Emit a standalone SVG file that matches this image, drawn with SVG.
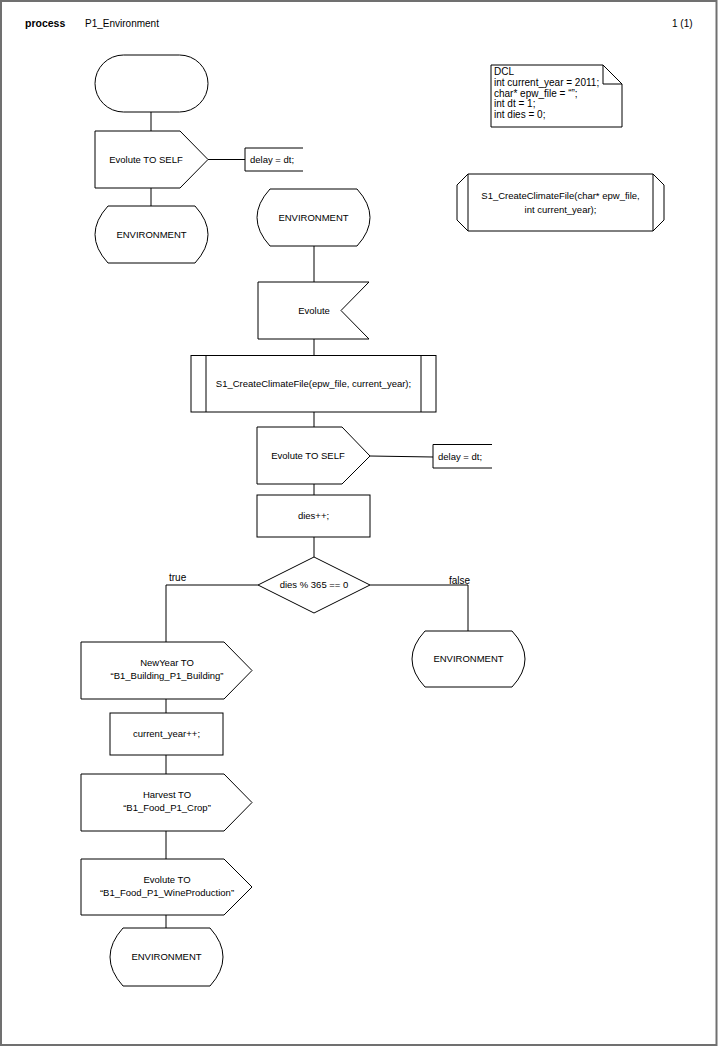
<svg xmlns="http://www.w3.org/2000/svg" width="718" height="1047" viewBox="0 0 718 1047">
<style>
.s{fill:#fff;stroke:#000;stroke-width:1}
.c{fill:none;stroke:#000;stroke-width:1}
text{font-family:"Liberation Sans",Arial,sans-serif;font-size:9.5px;fill:#000}
.m{text-anchor:middle}
.t{font-size:10px}
.d{font-size:10px}
.b{font-weight:bold;font-size:10.5px}
</style>
<rect x="0" y="0" width="718" height="1047" fill="#fff"/>
<rect id="frame" x="1" y="1" width="715.5" height="1044" fill="none" stroke="#707070" stroke-width="2"/>
<g id="header">
<text class="b" x="25" y="27">process</text>
<text class="t" x="85" y="27">P1_Environment</text>
<text class="t" x="672" y="27">1 (1)</text>
</g>
<g id="connectors">
<path class="c" d="M151,112V131M208,159.5H245M151,188V206"/>
<path class="c" d="M314,246V282M314,339V355M314,412V427M370,456L433,457M314,484V495M314,537V557"/>
<path class="c" d="M258,585H166V642M370,585H468V631"/>
<path class="c" d="M166,699V713M166,755V774M166,831V859M166,915V928"/>
</g>
<g id="labels">
<text class="t" x="169" y="581">true</text>
<text class="t" x="449" y="584">false</text>
</g>
<g id="start">
<rect class="s" x="95" y="55" width="113" height="57" rx="28.5"/>
</g>
<g id="out1">
<path class="s" d="M95,131H180L208,159.5L180,188H95Z"/>
<text class="m" x="146" y="162.5">Evolute TO SELF</text>
</g>
<g id="comment1">
<path class="c" d="M303,148H245V171H303"/>
<text x="250" y="162.5">delay = dt;</text>
</g>
<g id="state1">
<path class="s" d="M108,206H195Q221,234.5 195,263H108Q82,234.5 108,206Z"/>
<text class="m" x="151.5" y="237.5">ENVIRONMENT</text>
</g>
<g id="dcl">
<path class="s" d="M491,65H603L622,84V127H491Z"/>
<path class="c" d="M603,65V84H622"/>
<text class="d" x="494" y="75">DCL</text>
<text class="d" x="494" y="86">int current_year = 2011;</text>
<text class="d" x="494" y="96.5">char* epw_file = “”;</text>
<text class="d" x="494" y="107">int dt = 1;</text>
<text class="d" x="494" y="118">int dies = 0;</text>
</g>
<g id="procref">
<path class="s" d="M468,174H653L664,185V220L653,231H468L457,220V185Z"/>
<path class="c" d="M468,174V231M653,174V231"/>
<text class="m" x="560.5" y="199">S1_CreateClimateFile(char* epw_file,</text>
<text class="m" x="560.5" y="213">int current_year);</text>
</g>
<g id="state2">
<path class="s" d="M270,189H357Q383,217.5 357,246H270Q244,217.5 270,189Z"/>
<text class="m" x="313.5" y="220.5">ENVIRONMENT</text>
</g>
<g id="input1">
<path class="s" d="M258,282H369L341,310.5L369,339H258Z"/>
<text class="m" x="314" y="313.5">Evolute</text>
</g>
<g id="proc1">
<rect class="s" x="191" y="355.5" width="245" height="56.5"/>
<path class="c" d="M206,355.5V412M421,355.5V412"/>
<text class="m" x="313.5" y="386.5">S1_CreateClimateFile(epw_file, current_year);</text>
</g>
<g id="out2">
<path class="s" d="M257,427H342L370,456L342,484H257Z"/>
<text class="m" x="308" y="459">Evolute TO SELF</text>
</g>
<g id="comment2">
<path class="c" d="M492,444.5H433V468H492"/>
<text x="438" y="459.5">delay = dt;</text>
</g>
<g id="task1">
<rect class="s" x="257" y="495" width="113" height="42"/>
<text class="m" x="313.5" y="519">dies++;</text>
</g>
<g id="decision">
<path class="s" d="M314,557L370,585L314,613L258,585Z"/>
<text class="m" x="314" y="588">dies % 365 == 0</text>
</g>
<g id="state3">
<path class="s" d="M425,631H512Q538,659 512,687H425Q399,659 425,631Z"/>
<text class="m" x="468.5" y="662">ENVIRONMENT</text>
</g>
<g id="out3">
<path class="s" d="M81,642H224L252,670.5L224,699H81Z"/>
<text class="m" x="167" y="666">NewYear TO</text>
<text class="m" x="167" y="679">“B1_Building_P1_Building”</text>
</g>
<g id="task2">
<rect class="s" x="110" y="713" width="113" height="42"/>
<text class="m" x="166.5" y="737">current_year++;</text>
</g>
<g id="out4">
<path class="s" d="M81,774H224L252,802.5L224,831H81Z"/>
<text class="m" x="167" y="798">Harvest TO</text>
<text class="m" x="167" y="811">“B1_Food_P1_Crop”</text>
</g>
<g id="out5">
<path class="s" d="M81,859H224L252,887L224,915H81Z"/>
<text class="m" x="167" y="883">Evolute TO</text>
<text class="m" x="167" y="896">“B1_Food_P1_WineProduction”</text>
</g>
<g id="state4">
<path class="s" d="M123,928H210Q236,957 210,986H123Q97,957 123,928Z"/>
<text class="m" x="166.5" y="960">ENVIRONMENT</text>
</g>
</svg>
